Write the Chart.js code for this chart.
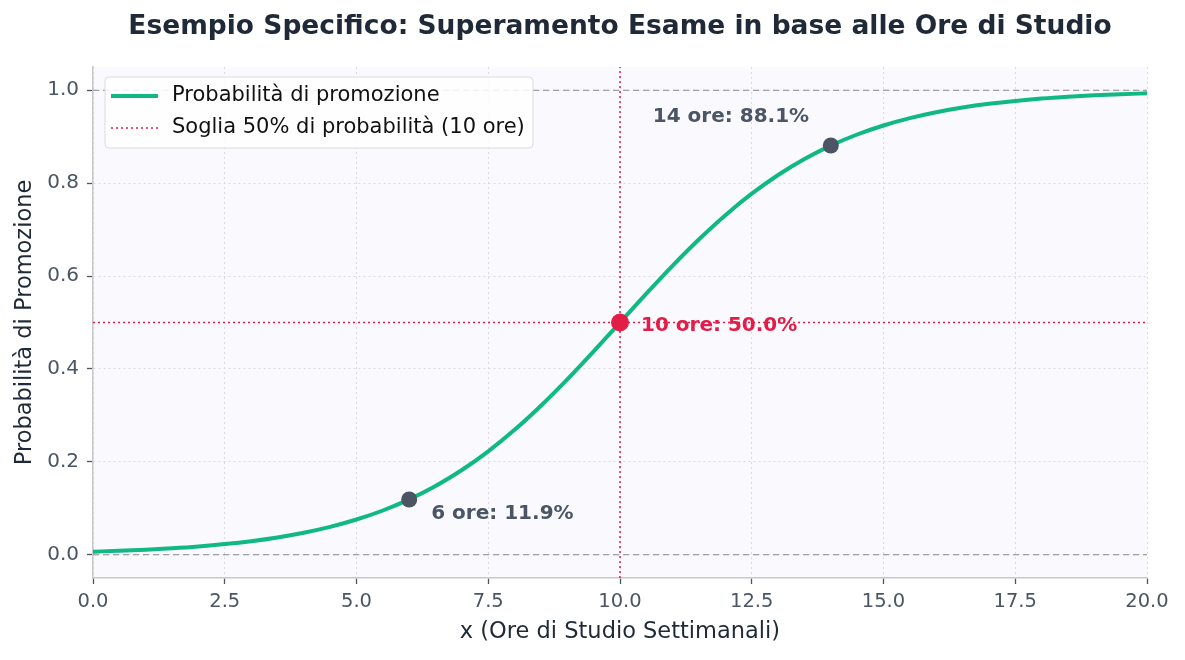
<!DOCTYPE html>
<html><head><meta charset="utf-8">
<script src="https://cdn.jsdelivr.net/npm/chart.js@4.4.1/dist/chart.umd.min.js"></script>
<style>html,body{margin:0;padding:0;background:#fff}#wrap{width:1185px;height:660px}</style>
</head><body><div id="wrap"><canvas id="c" width="1185" height="660"></canvas></div>
<script>
const chartTitle = "Esempio Specifico: Superamento Esame in base alle Ore di Studio";
const xTitle = "x (Ore di Studio Settimanali)";
const yTitle = "Probabilità di Promozione";
const curveLabel = "Probabilità di promozione";
const thresholdLabel = "Soglia 50% di probabilità (10 ore)";
const hours = [0,0.5,1,1.5,2,2.5,3,3.5,4,4.5,5,5.5,6,6.5,7,7.5,8,8.5,9,9.5,10,10.5,11,11.5,12,12.5,13,13.5,14,14.5,15,15.5,16,16.5,17,17.5,18,18.5,19,19.5,20];
const probability = [0.0067,0.0086,0.0110,0.0141,0.0180,0.0230,0.0293,0.0373,0.0474,0.0601,0.0759,0.0953,0.1192,0.1480,0.1824,0.2227,0.2689,0.3208,0.3775,0.4378,0.5000,0.5622,0.6225,0.6792,0.7311,0.7773,0.8176,0.8520,0.8808,0.9047,0.9241,0.9399,0.9526,0.9627,0.9707,0.9770,0.9820,0.9859,0.9890,0.9914,0.9933];
const markHours = [6, 10, 14];
const markProb = [0.119, 0.500, 0.881];
const markText = ["6 ore: 11.9%", "10 ore: 50.0%", "14 ore: 88.1%"];
const thresholdHour = 10;
const thresholdProb = 0.5;
const xTicks = [0,2.5,5,7.5,10,12.5,15,17.5,20];
const yTicks = [0,0.2,0.4,0.6,0.8,1.0];

const GREEN = '#10b981', RED = '#e11d48', GRAY = '#4b5563', TXT = '#1f2937';
const markColors = [GRAY, RED, GRAY];
const textOffsets = [[22,14],[21,3],[-178,-29]];
const FONT = "'DejaVu Sans', sans-serif";

const bgPlugin = {
  id: 'bg',
  beforeDraw(chart) {
    const {ctx, chartArea: a} = chart;
    ctx.save(); ctx.fillStyle = '#f9f9fe';
    ctx.fillRect(a.left, a.top, a.right - a.left, a.bottom - a.top);
    ctx.restore();
  }
};
const textPlugin = {
  id: 'texts',
  afterDraw(chart) {
    const {ctx, chartArea: a, scales} = chart;
    ctx.save();
    ctx.fillStyle = TXT; ctx.textAlign = 'center'; ctx.textBaseline = 'middle';
    ctx.font = "bold 26.5px " + FONT;
    ctx.fillText(chartTitle, (a.left + a.right) / 2, 27);
    ctx.font = "22.5px " + FONT;
    ctx.fillText(xTitle, (a.left + a.right) / 2, 632);
    ctx.save(); ctx.translate(25, (a.top + a.bottom) / 2); ctx.rotate(-Math.PI / 2);
    ctx.fillText(yTitle, 0, 0); ctx.restore();
    // annotations
    ctx.font = "bold 20px " + FONT; ctx.textAlign = 'left';
    markHours.forEach((h, i) => {
      const px = scales.x.getPixelForValue(h), py = scales.y.getPixelForValue(markProb[i]);
      ctx.fillStyle = markColors[i];
      ctx.fillText(markText[i], px + textOffsets[i][0], py + textOffsets[i][1]);
    });
    // legend
    const lx = 105, ly = 77, lw = 428, lh = 71;
    ctx.fillStyle = 'rgba(255,255,255,0.85)'; ctx.strokeStyle = '#dcdcdc'; ctx.lineWidth = 1;
    ctx.beginPath(); ctx.roundRect(lx, ly, lw, lh, 4); ctx.fill(); ctx.stroke();
    ctx.strokeStyle = GREEN; ctx.lineWidth = 4; ctx.setLineDash([]);
    ctx.beginPath(); ctx.moveTo(111, 96); ctx.lineTo(158, 96); ctx.stroke();
    ctx.strokeStyle = RED; ctx.lineWidth = 1.6; ctx.setLineDash([2, 3]);
    ctx.beginPath(); ctx.moveTo(111, 128); ctx.lineTo(158, 128); ctx.stroke();
    ctx.setLineDash([]);
    ctx.fillStyle = '#111'; ctx.font = "21px " + FONT;
    ctx.fillText(curveLabel, 172, 96);
    ctx.fillText(thresholdLabel, 172, 128);
    ctx.restore();
  }
};

const yMin = -0.05, yMax = 1.05;
const gridOpts = { color: '#dadae2', lineWidth: 1, tickColor: GRAY, tickLength: 6, tickBorderDash: [], tickWidth: 1.3 };
const borderOpts = { display: true, color: '#c8c8c8', width: 1.5, dash: [2, 3] };
new Chart(document.getElementById('c'), {
  type: 'line',
  data: {
    datasets: [
      { label: 'marks', type: 'scatter', order: 0,
        data: markHours.map((h, i) => ({x: h, y: markProb[i]})),
        pointRadius: [8, 9, 8], pointBackgroundColor: markColors, pointBorderColor: markColors, pointBorderWidth: 0 },
      { label: curveLabel, order: 1, data: hours.map((h, i) => ({x: h, y: probability[i]})),
        borderColor: GREEN, borderWidth: 4, pointRadius: 0, cubicInterpolationMode: 'monotone', fill: false },
      { label: thresholdLabel, order: 2, data: [{x: thresholdHour, y: yMin}, {x: thresholdHour, y: yMax}],
        borderColor: RED, borderWidth: 1.5, borderDash: [2, 3], pointRadius: 0 },
      { label: 'h50', order: 2, data: [{x: 0, y: thresholdProb}, {x: 20, y: thresholdProb}],
        borderColor: RED, borderWidth: 1.5, borderDash: [2, 3], pointRadius: 0 },
      { label: 'ref0', order: 3, data: [{x: 0, y: 0}, {x: 20, y: 0}],
        borderColor: '#8a8a8a', borderWidth: 1.2, borderDash: [6, 4], pointRadius: 0 },
      { label: 'ref1', order: 3, data: [{x: 0, y: 1}, {x: 20, y: 1}],
        borderColor: '#8a8a8a', borderWidth: 1.2, borderDash: [6, 4], pointRadius: 0 }
    ]
  },
  options: {
    responsive: false, animation: false, devicePixelRatio: 1,
    layout: { padding: { top: 67, right: 38, left: 0, bottom: 0 } },
    plugins: { legend: { display: false }, title: { display: false }, tooltip: { enabled: false } },
    scales: {
      x: { type: 'linear', min: 0, max: 20,
        afterFit(s) { s.height = 82; },
        afterBuildTicks(s) { s.ticks = xTicks.map(v => ({value: v})); },
        ticks: { color: GRAY, font: { family: FONT, size: 19.5 }, padding: 6, callback: v => v.toFixed(1), maxRotation: 0 },
        grid: gridOpts, border: borderOpts
      },
      y: { type: 'linear', min: yMin, max: yMax,
        afterFit(s) { s.width = 93; },
        afterBuildTicks(s) { s.ticks = yTicks.map(v => ({value: v})); },
        ticks: { color: GRAY, font: { family: FONT, size: 20 }, padding: 8, callback: v => v.toFixed(1) },
        grid: gridOpts, border: borderOpts
      }
    }
  },
  plugins: [bgPlugin, textPlugin]
});
</script></body></html>
